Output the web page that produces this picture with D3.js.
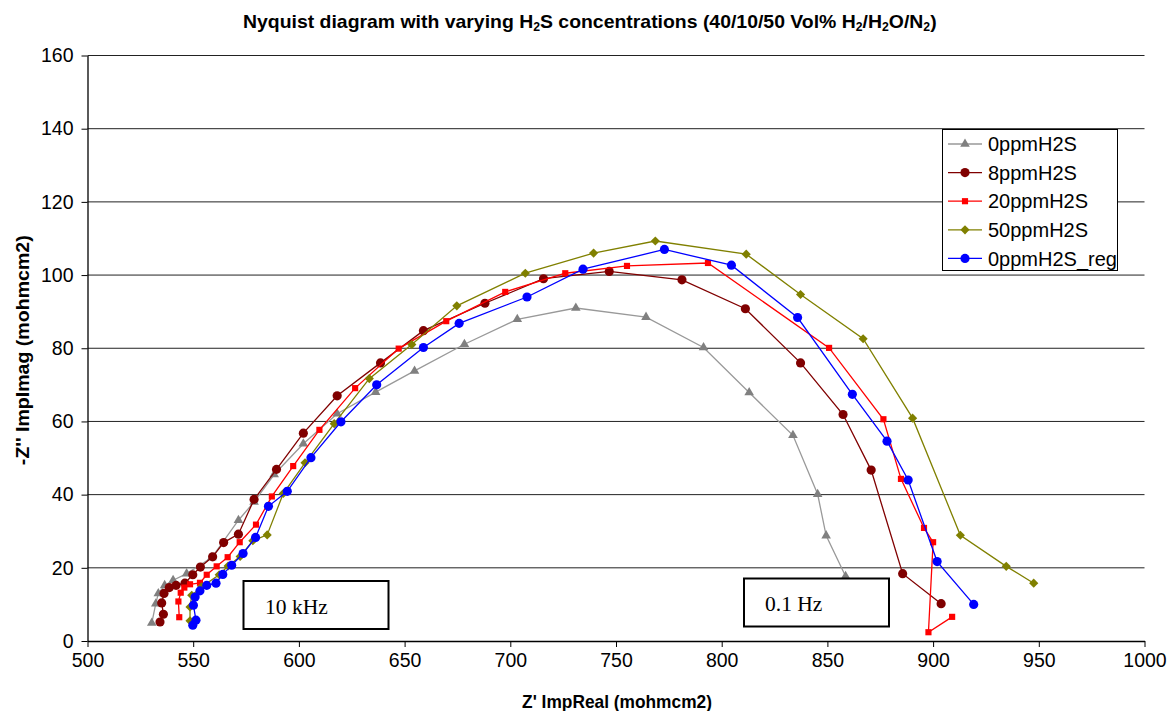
<!DOCTYPE html>
<html>
<head>
<meta charset="utf-8">
<script src="https://cdn.jsdelivr.net/npm/d3@7"></script>
<style>
  body { margin: 0; background: #fff; }
  svg { display: block; }
</style>
</head>
<body>
<svg id="chart" width="1169" height="711"></svg>
<script>
// Axis tick values
const xTicks = [500, 550, 600, 650, 700, 750, 800, 850, 900, 950, 1000];
const yTicks = [0, 20, 40, 60, 80, 100, 120, 140, 160];

// Impedance spectra: [Z' real, -Z'' imaginary] in mOhm·cm², high to low frequency
const ppm0 = [[530.4,4.9],[532.3,10.2],[533.5,13.0],[536.5,15.2],[540.5,16.6],[546.9,18.4],[558.8,22.8],[571.4,33.0],[578.8,38.0],[588.3,45.5],[602.1,53.9],[618.1,62.1],[636.3,68.0],[654.7,73.8],[678.3,81.1],[703.3,87.9],[731.0,91.0],[764.2,88.5],[791.4,80.2],[813.0,67.9],[833.7,56.2],[845.4,40.1],[849.4,28.8],[858.6,17.7]];
const ppm8 = [[534.3,5.2],[535.9,7.3],[535.1,10.4],[536.2,13.0],[538.7,14.6],[541.9,15.2],[546.1,15.8],[549.8,18.1],[553.4,20.2],[559.2,23.0],[564.4,26.9],[571.4,29.2],[578.8,38.7],[589.4,46.9],[602.1,56.8],[618.1,67.0],[638.6,76.0],[658.9,84.8],[688.0,92.3],[715.7,99.0],[746.8,101.0],[781.2,98.7],[811.2,90.8],[837.3,76.0],[857.4,61.9],[870.7,46.7],[885.6,18.4],[903.8,10.2]];
const ppm20 = [[543.4,6.5],[543.0,10.8],[544.1,13.2],[545.8,14.6],[548.5,15.5],[553.2,15.9],[556.4,18.1],[561.1,20.4],[566.3,22.9],[572.0,27.0],[579.7,31.8],[587.2,39.5],[597.3,47.8],[609.7,57.7],[626.6,69.1],[647.2,79.9],[669.7,87.4],[697.6,95.4],[726.0,100.5],[755.2,102.5],[793.5,103.3],[850.8,80.1],[876.5,60.6],[884.8,44.3],[895.7,30.9],[900.0,27.0],[897.8,2.4],[909.0,6.6]];
const ppm50 = [[548.5,5.5],[548.5,9.3],[549.3,12.5],[554.0,14.8],[562.3,18.1],[566.5,20.5],[572.2,23.1],[578.2,27.4],[585.0,29.0],[592.6,40.3],[602.9,48.7],[616.7,59.4],[633.3,71.7],[653.4,81.0],[674.7,91.6],[707.1,100.5],[739.4,106.0],[768.6,109.3],[811.6,105.7],[837.3,94.7],[866.9,82.6],[890.3,60.9],[912.9,28.9],[934.6,20.4],[947.6,15.8]];
const ppm0reg = [[549.8,4.3],[551.3,5.7],[550.1,9.8],[550.9,12.0],[553.2,13.7],[556.4,15.2],[560.8,15.8],[564.0,18.2],[568.2,20.7],[573.6,23.9],[579.5,28.3],[585.6,36.8],[594.5,40.9],[605.7,50.1],[619.9,59.9],[636.8,70.0],[658.9,80.2],[675.8,86.8],[707.9,94.0],[734.4,101.6],[772.9,107.0],[804.6,102.7],[835.9,88.4],[861.8,67.4],[878.2,54.6],[888.2,44.0],[901.9,21.7],[919.2,10.0]];

const seriesNames = ["0ppmH2S", "8ppmH2S", "20ppmH2S", "50ppmH2S", "0ppmH2S_reg"];
const seriesData = [ppm0, ppm8, ppm20, ppm50, ppm0reg];
const lineColors = ["#999999", "#800000", "#ff0000", "#808000", "#0000ff"];
const markerColors = ["#808080", "#800000", "#ff0000", "#808000", "#0000ff"];
const markerKinds = ["triangle", "circle", "square", "diamond", "circle"];

const svg = d3.select("#chart");
const plot = { left: 87.5, right: 1144.5, top: 55.5, bottom: 641 };

const x = d3.scaleLinear().domain([500, 1000]).range([plot.left, plot.right]);
const y = d3.scaleLinear().domain([0, 160]).range([plot.bottom, plot.top]);

const sansFamily = "'Liberation Sans', Arial, sans-serif";
const serifFamily = "'Liberation Serif', 'Times New Roman', serif";

// Horizontal gridlines
svg.append("g").selectAll("line")
  .data(yTicks.filter(v => v > 0))
  .join("line")
  .attr("x1", plot.left).attr("x2", plot.right)
  .attr("y1", d => y(d)).attr("y2", d => y(d))
  .attr("stroke", "#222").attr("stroke-width", 1);

// Axes
const yAxis = svg.append("g")
  .attr("transform", `translate(${plot.left},0)`)
  .call(d3.axisLeft(y).tickValues(yTicks).tickFormat(d3.format("d"))
    .tickSize(6).tickSizeOuter(0).tickPadding(8));
const xAxis = svg.append("g")
  .attr("transform", `translate(0,${plot.bottom})`)
  .call(d3.axisBottom(x).tickValues(xTicks).tickFormat(d3.format("d"))
    .tickSize(6).tickSizeOuter(0).tickPadding(6));
[yAxis, xAxis].forEach(g => {
  g.select(".domain").attr("stroke", "#000").attr("stroke-width", 1.3);
  g.selectAll(".tick line").attr("stroke", "#000");
  g.selectAll(".tick text").attr("fill", "#000")
    .style("font-size", "19.5px").style("font-family", sansFamily);
});

// Marker shapes
function markerPath(kind) {
  if (kind === "triangle") return d3.symbol(d3.symbolTriangle, 40)();
  if (kind === "circle") return d3.symbol(d3.symbolCircle, 66)();
  if (kind === "square") return d3.symbol(d3.symbolSquare, 38)();
  return d3.symbol(d3.symbolSquare, 42)();
}
function markerRotate(kind) { return kind === "diamond" ? 45 : 0; }

const line = d3.line().x(d => x(d[0])).y(d => y(d[1]));

// Series lines and markers
seriesData.forEach((data, i) => {
  const g = svg.append("g");
  g.append("path").datum(data)
    .attr("d", line)
    .attr("fill", "none")
    .attr("stroke", lineColors[i])
    .attr("stroke-width", 1.3);
  g.selectAll("path.mk").data(data).join("path")
    .attr("class", "mk")
    .attr("d", markerPath(markerKinds[i]))
    .attr("transform", d => `translate(${x(d[0])},${y(d[1])}) rotate(${markerRotate(markerKinds[i])})`)
    .attr("fill", markerColors[i]);
});

// Frequency annotation boxes
const notes = [
  { label: "10 kHz", bx: 243.5, by: 581, tx: 265, ty: 614 },
  { label: "0.1 Hz", bx: 744, by: 578.5, tx: 765, ty: 611 }
];
notes.forEach(n => {
  svg.append("rect")
    .attr("x", n.bx).attr("y", n.by).attr("width", 145).attr("height", 48)
    .attr("fill", "#fff").attr("stroke", "#000").attr("stroke-width", 2);
  svg.append("text")
    .attr("x", n.tx).attr("y", n.ty)
    .style("font-family", serifFamily).style("font-size", "21.5px")
    .attr("fill", "#000")
    .text(n.label);
});

// Legend
const leg = svg.append("g");
leg.append("rect")
  .attr("x", 942.5).attr("y", 129.5).attr("width", 175).attr("height", 141)
  .attr("fill", "#fff").attr("stroke", "#000").attr("stroke-width", 1);
seriesNames.forEach((name, i) => {
  const ly = 144 + i * 28.6;
  leg.append("line")
    .attr("x1", 948).attr("x2", 982).attr("y1", ly).attr("y2", ly)
    .attr("stroke", lineColors[i]).attr("stroke-width", 1.3);
  leg.append("path")
    .attr("d", markerPath(markerKinds[i]))
    .attr("transform", `translate(965,${ly}) rotate(${markerRotate(markerKinds[i])})`)
    .attr("fill", markerColors[i]);
  leg.append("text")
    .attr("x", 988).attr("y", ly).attr("dy", "0.36em")
    .style("font-family", sansFamily).style("font-size", "20px")
    .attr("fill", "#000")
    .text(name);
});

// Title with subscripts
const titleParts = [
  ["Nyquist diagram with varying H", false], ["2", true], ["S concentrations (40/10/50 Vol% H", false],
  ["2", true], ["/H", false], ["2", true], ["O/N", false], ["2", true], [")", false]
];
const titleG = svg.append("g");
const title = titleG.append("text")
  .attr("x", 0).attr("y", 0)
  .style("font-family", sansFamily).style("font-size", "19px").style("font-weight", "bold")
  .attr("fill", "#000");
titleParts.forEach(([t, sub], i) => {
  const prevSub = i > 0 && titleParts[i - 1][1];
  const ts = title.append("tspan").text(t);
  if (sub) ts.style("font-size", "12px").attr("dy", 3);
  else ts.attr("dy", prevSub ? -3 : 0);
});
{
  const bb = title.node().getBBox();
  const s = 694 / bb.width;
  titleG.attr("transform", `translate(${590 - (bb.x + bb.width / 2) * s},28) scale(${s},1)`);
}

// Axis titles, set condensed to their span
function fitWidth(sel, target) {
  return target / sel.node().getBBox().width;
}
const yTitleG = svg.append("g");
const yTitle = yTitleG.append("text")
  .attr("text-anchor", "middle")
  .style("font-family", sansFamily).style("font-size", "18px").style("font-weight", "bold")
  .text("-Z'' ImpImag (mohmcm2)");
{
  const s = fitWidth(yTitle, 230);
  yTitleG.attr("transform", `translate(29,${(plot.top + plot.bottom) / 2 + 2}) rotate(-90) scale(${s},1)`);
}
const xTitleG = svg.append("g");
const xTitle = xTitleG.append("text")
  .attr("text-anchor", "middle")
  .style("font-family", sansFamily).style("font-size", "18px").style("font-weight", "bold")
  .text("Z' ImpReal (mohmcm2)");
{
  const s = fitWidth(xTitle, 190);
  xTitleG.attr("transform", `translate(${(plot.left + plot.right) / 2 + 1},708) scale(${s},1)`);
}
</script>
</body>
</html>
